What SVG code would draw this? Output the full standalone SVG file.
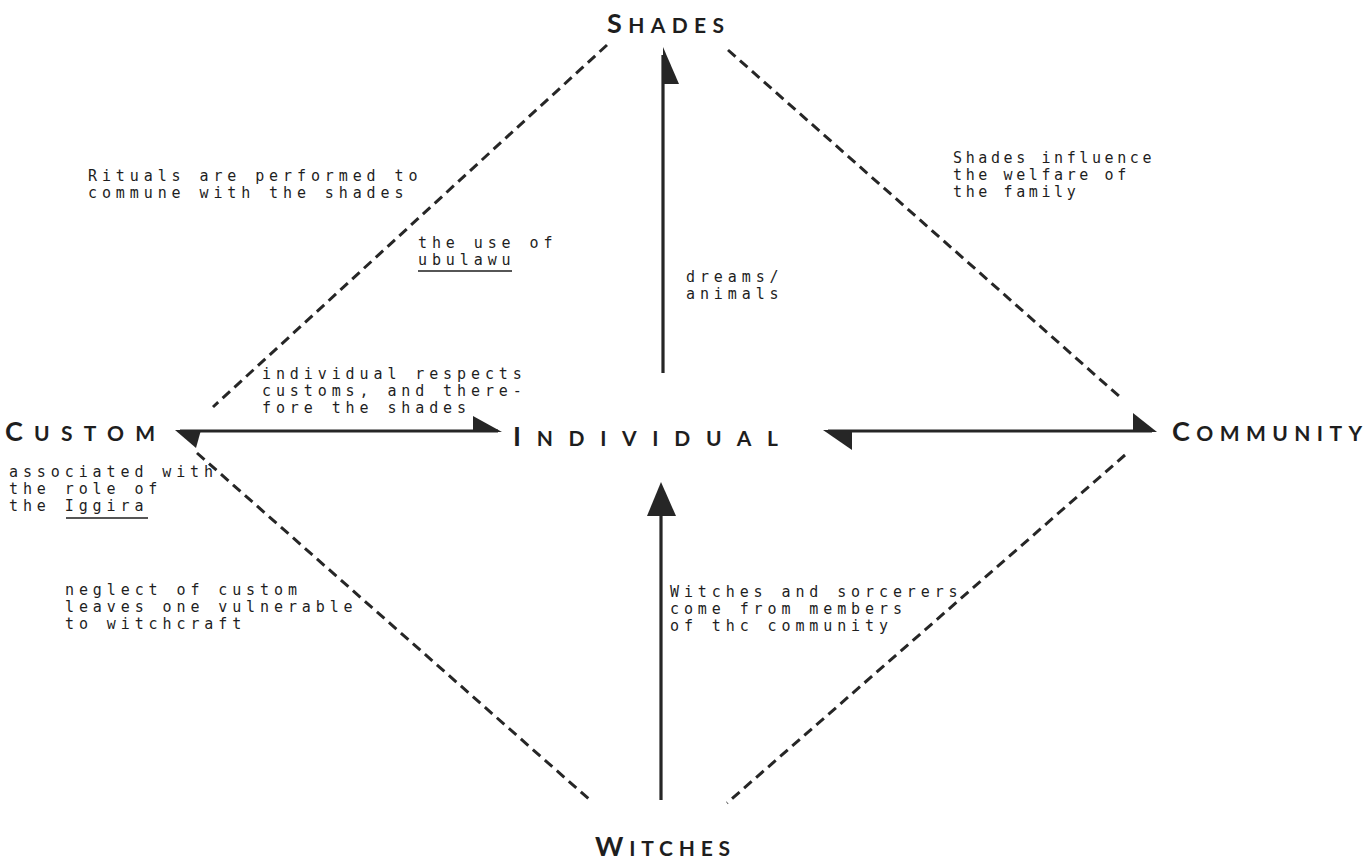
<svg xmlns="http://www.w3.org/2000/svg" width="1371" height="864" viewBox="0 0 1371 864">
<style>
.node{font-family:Lato,"Open Sans","DejaVu Sans",sans-serif;font-size:21px;fill:#1e1e1e;font-weight:bold}
.big{font-size:27px}
.note{font-family:"DejaVu Sans Mono","Liberation Mono",monospace;font-size:15px;letter-spacing:4.9px;fill:#1e1e1e}
.note2{font-family:"DejaVu Sans Mono","Liberation Mono",monospace;font-size:15px;letter-spacing:3.6px;fill:#1e1e1e}
.dash{stroke:#262626;stroke-width:3;stroke-dasharray:10 6;fill:none}
.solid{stroke:#262626;stroke-width:3.2;fill:none}
.head{fill:#262626}
.ul{stroke:#1e1e1e;stroke-width:1.6}
</style>
<rect width="1371" height="864" fill="#fff"/>
<g id="connectors">
<line class="dash" x1="607" y1="45" x2="213" y2="407"/>
<line class="dash" x1="728" y1="50" x2="1120" y2="397"/>
<line class="dash" x1="197" y1="453" x2="590" y2="800"/>
<line class="dash" x1="1125" y1="455" x2="727" y2="803"/>
<line class="solid" x1="663" y1="373" x2="663" y2="55"/>
<polygon class="head" points="663,47 679,84 663,84"/>
<line class="solid" x1="180" y1="431" x2="498" y2="431"/>
<polygon class="head" points="175,430 201,430 196,448"/>
<polygon class="head" points="502,432 473,416 473,432"/>
<line class="solid" x1="828" y1="431" x2="1152" y2="431"/>
<polygon class="head" points="823,430 852,430 852,450"/>
<polygon class="head" points="1157,432 1133,413 1133,432"/>
<line class="solid" x1="661" y1="512" x2="661" y2="800"/>
<polygon class="head" points="661,482 647,516 676,516"/>
</g>
<g id="shades"><text class="node" x="607" y="33" textLength="117" lengthAdjust="spacing"><tspan class="big">S</tspan>HADES</text></g>
<g id="custom"><text class="node" x="5" y="441" textLength="150" lengthAdjust="spacing"><tspan class="big">C</tspan>USTOM</text></g>
<g id="individual"><text class="node" x="513" y="446" textLength="265" lengthAdjust="spacing"><tspan class="big">I</tspan>NDIVIDUAL</text></g>
<g id="community"><text class="node" x="1172" y="441" textLength="190" lengthAdjust="spacing"><tspan class="big">C</tspan>OMMUNITY</text></g>
<g id="witches"><text class="node" x="595" y="856" textLength="135" lengthAdjust="spacing"><tspan class="big">W</tspan>ITCHES</text></g>
<g id="labels">
<text class="note" x="88" y="181">Rituals are performed to</text>
<text class="note" x="88" y="198">commune with the shades</text>
<text class="note" x="418" y="248">the use of</text>
<text class="note" x="418" y="265">ubulawu</text>
<line class="ul" x1="418" y1="271" x2="512" y2="271"/>
<text class="note" x="686" y="282">dreams/</text>
<text class="note" x="686" y="299">animals</text>
<text class="note2" x="953" y="163">Shades influence</text>
<text class="note2" x="953" y="180">the welfare of</text>
<text class="note2" x="953" y="197">the family</text>
<text class="note" x="262" y="379">individual respects</text>
<text class="note" x="262" y="396">customs, and there-</text>
<text class="note" x="262" y="413">fore the shades</text>
<text class="note" x="9" y="477">associated with</text>
<text class="note" x="9" y="494">the role of</text>
<text class="note" x="9" y="511">the Iggira</text>
<line class="ul" x1="66" y1="518" x2="148" y2="518"/>
<text class="note" x="65" y="595">neglect of custom</text>
<text class="note" x="65" y="612">leaves one vulnerable</text>
<text class="note" x="65" y="629">to witchcraft</text>
<text class="note" x="670" y="597">Witches and sorcerers</text>
<text class="note" x="670" y="614">come from members</text>
<text class="note" x="670" y="631">of thc community</text>
</g>
</svg>
